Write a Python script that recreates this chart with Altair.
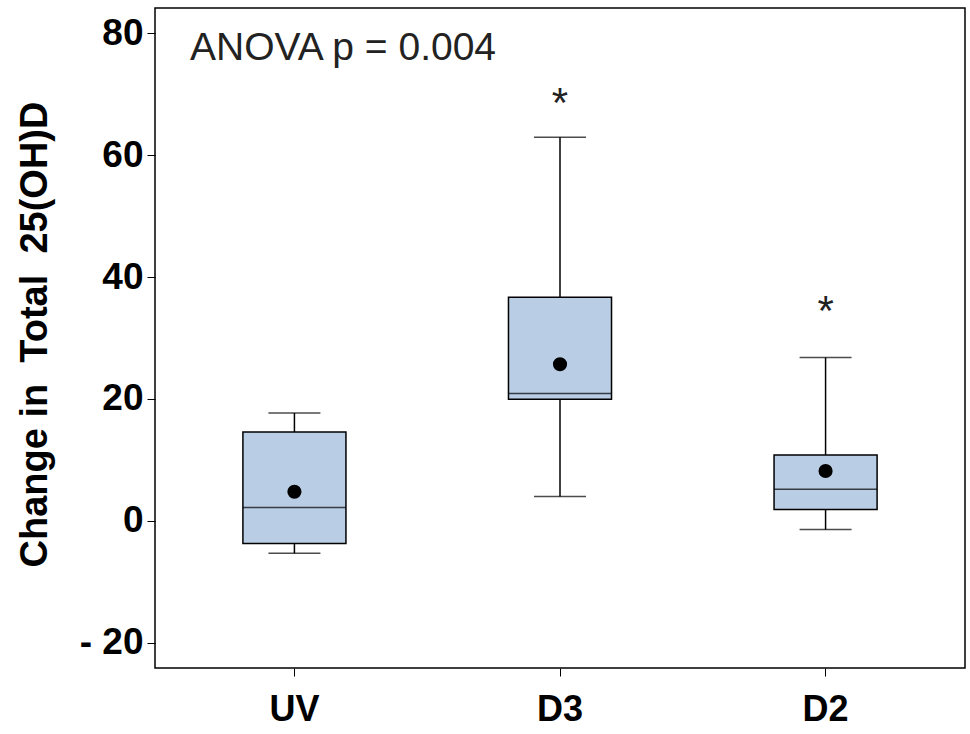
import altair as alt
import pandas as pd

groups = ["UV", "D3", "D2"]
whisker_low = [-5.3, 4.0, -1.4]
q1 = [-3.7, 19.95, 1.9]
median = [2.2, 20.9, 5.2]
q3 = [14.6, 36.7, 10.8]
whisker_high = [17.7, 62.9, 26.8]
means = [4.8, 25.7, 8.2]
star_pos = [None, 69.8, 35.8]
y_ticks = [-20, 0, 20, 40, 60, 80]

df = pd.DataFrame({
    "group": groups, "lo": whisker_low, "q1": q1, "med": median,
    "q3": q3, "hi": whisker_high, "mean": means, "star": star_pos,
})

FONT = "Liberation Sans"
NB = "\u00a0"
x_enc = alt.X("group:N", sort=groups,
              scale=alt.Scale(paddingInner=0.612, paddingOuter=0.331),
              axis=alt.Axis(title=None, labelAngle=0, labelPadding=16, labelFontSize=36))
y_scale = alt.Scale(domain=[-24.1, 84.1], nice=False, zero=False)
y_axis = alt.Axis(values=y_ticks,
                  title=f"Change in {NB}Total {NB}25(OH)D", grid=False,
                  titleX=-120, titleY=326, titleAngle=270, titleAlign="center",
                  titleBaseline="middle",
                  labelExpr="datum.value < 0 ? '- ' + abs(datum.value) : '' + datum.value")

base = alt.Chart(df)

whisk = base.mark_rule(color="black", strokeWidth=1.5).encode(
    x=x_enc, y=alt.Y("lo:Q", scale=y_scale, axis=y_axis), y2="hi:Q")
box = base.mark_bar(fill="#b9cde5", stroke="black", strokeWidth=1.5).encode(
    x=x_enc, y=alt.Y("q1:Q"), y2="q3:Q")
med = base.mark_tick(color="black", size=103, thickness=1.5).encode(
    x=x_enc, y="med:Q")
cap_lo = base.mark_tick(color="black", size=52, thickness=1.5).encode(
    x=x_enc, y="lo:Q")
cap_hi = base.mark_tick(color="black", size=52, thickness=1.5).encode(
    x=x_enc, y="hi:Q")
mean_pt = base.mark_circle(color="black", size=200, opacity=1).encode(
    x=x_enc, y="mean:Q")
stars = base.transform_filter("isValid(datum.star)").mark_text(
    text="*", font=FONT, fontSize=42, color="#222222", baseline="middle", dy=9
).encode(x=x_enc, y="star:Q")

anova = alt.Chart(pd.DataFrame({"t": ["ANOVA p = 0.004"]})).mark_text(
    font=FONT, fontSize=39, color="#222222", align="left", baseline="alphabetic"
).encode(x=alt.value(35), y=alt.value(52), text="t:N")

chart = alt.layer(whisk, box, med, cap_lo, cap_hi, mean_pt, stars, anova).properties(
    width=810, height=660,
    autosize=alt.AutoSizeParams(type="none"),
    padding={"left": 155, "top": 8, "right": 5, "bottom": 66},
).configure_view(
    stroke="black", strokeWidth=1.5
).configure_axis(
    labelFont=FONT, labelFontWeight="bold", labelFontSize=37, labelColor="black",
    titleFont=FONT, titleFontWeight="bold", titleFontSize=38, titleColor="black",
    tickColor="black", tickSize=8, tickWidth=1, domain=False,
).configure_axisY(labelPadding=4)

chart.save("out.html", embed_options={"renderer": "svg", "actions": False})
